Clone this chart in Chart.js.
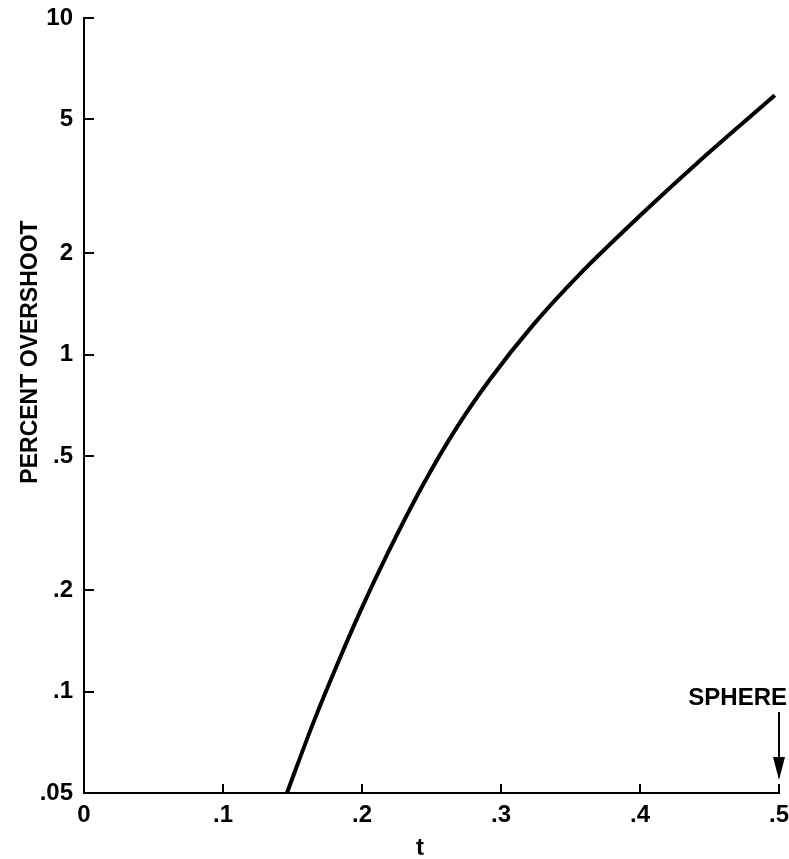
<!DOCTYPE html>
<html>
<head>
<meta charset="utf-8">
<script src="https://cdn.jsdelivr.net/npm/chart.js@4.4.1/dist/chart.umd.min.js"></script>
<style>
  html, body { margin: 0; padding: 0; background: #fff; }
  #wrap { width: 789px; height: 859px; }
</style>
</head>
<body>
<div id="wrap"><canvas id="chart"></canvas></div>
<script>
// values
const tValues = [0.146, 0.165, 0.182, 0.199, 0.218, 0.244, 0.268, 0.292, 0.323, 0.357, 0.402, 0.441, 0.497];
const overshoot = [0.05, 0.0809, 0.120, 0.174, 0.255, 0.412, 0.607, 0.845, 1.225, 1.742, 2.636, 3.707, 5.90];

const xTicks = [0, 0.1, 0.2, 0.3, 0.4, 0.5];
const xTickLabels = ['0', '.1', '.2', '.3', '.4', '.5'];
const yTicks = [0.05, 0.1, 0.2, 0.5, 1, 2, 5, 10];
const yTickLabels = ['.05', '.1', '.2', '.5', '1', '2', '5', '10'];

const FONT = "'Liberation Sans', Arial, sans-serif";

const points = tValues.map((t, i) => ({ x: t, y: overshoot[i] }));

// inward tick marks, axis titles and the SPHERE marker
const decorations = {
  id: 'decorations',
  afterDraw(chart) {
    const { ctx, chartArea: a, scales: { x, y } } = chart;
    ctx.save();
    ctx.strokeStyle = '#000';
    ctx.lineWidth = 2;
    ctx.beginPath();
    yTicks.forEach(v => {
      const py = Math.round(y.getPixelForValue(v));
      ctx.moveTo(a.left, py);
      ctx.lineTo(a.left + 10, py);
    });
    xTicks.forEach(v => {
      const px = Math.round(x.getPixelForValue(v));
      ctx.moveTo(px, a.bottom);
      ctx.lineTo(px, a.bottom - 9);
    });
    ctx.stroke();

    // SPHERE arrow at t = .5
    const sx = x.getPixelForValue(0.5);
    ctx.beginPath();
    ctx.moveTo(sx, a.bottom - 81);
    ctx.lineTo(sx, a.bottom - 30);
    ctx.stroke();
    ctx.fillStyle = '#000';
    ctx.beginPath();
    ctx.moveTo(sx - 6, a.bottom - 36);
    ctx.lineTo(sx + 6, a.bottom - 36);
    ctx.lineTo(sx, a.bottom - 13);
    ctx.closePath();
    ctx.fill();

    ctx.font = 'bold 24px ' + FONT;
    ctx.textAlign = 'right';
    ctx.textBaseline = 'alphabetic';
    ctx.fillText('SPHERE', 787, 705);

    ctx.textAlign = 'center';
    ctx.fillText('t', 420, 855);

    ctx.translate(37, 352);
    ctx.rotate(-Math.PI / 2);
    ctx.font = 'bold 23px ' + FONT;
    ctx.fillText('PERCENT OVERSHOOT', 0, 0);
    ctx.restore();
  }
};

new Chart(document.getElementById('chart'), {
  type: 'scatter',
  data: {
    datasets: [{
      data: points,
      showLine: true,
      borderColor: '#000',
      borderWidth: 4,
      pointRadius: 0,
      cubicInterpolationMode: 'monotone'
    }]
  },
  options: {
    responsive: true,
    maintainAspectRatio: false,
    animation: false,
    layout: { padding: { top: 18, right: 10, left: 0, bottom: 0 } },
    plugins: { legend: { display: false }, tooltip: { enabled: false } },
    scales: {
      x: {
        type: 'linear',
        min: 0,
        max: 0.5,
        afterBuildTicks: s => { s.ticks = xTicks.map(v => ({ value: v })); },
        afterFit: s => { s.height = 66; s.paddingLeft = 0; s.paddingRight = 0; },
        grid: { display: false, drawTicks: false },
        border: { display: true, color: '#000', width: 2 },
        ticks: {
          color: '#000',
          padding: 8,
          maxRotation: 0,
          font: { family: FONT, size: 24, weight: 'bold' },
          callback: v => xTickLabels[xTicks.indexOf(v)]
        }
      },
      y: {
        type: 'logarithmic',
        min: 0.05,
        max: 10,
        afterBuildTicks: s => { s.ticks = yTicks.map(v => ({ value: v })); },
        afterFit: s => { s.width = 84; s.paddingTop = 0; s.paddingBottom = 0; },
        grid: { display: false, drawTicks: false },
        border: { display: true, color: '#000', width: 2 },
        ticks: {
          color: '#000',
          padding: 11,
          font: { family: FONT, size: 24, weight: 'bold' },
          callback: v => yTickLabels[yTicks.indexOf(v)]
        }
      }
    }
  },
  plugins: [decorations]
});
</script>
</body>
</html>
